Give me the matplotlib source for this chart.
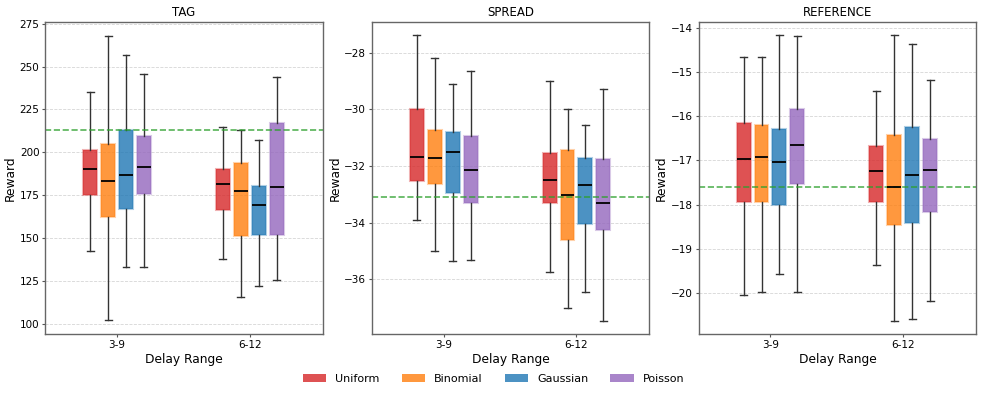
import numpy as np
import matplotlib
matplotlib.use("Agg")
import matplotlib.pyplot as plt
import matplotlib.patches as mpatches

# Delay range groups and distributions
delay_ranges = ["3-9", "6-12"]
distributions = ["Uniform", "Binomial", "Gaussian", "Poisson"]
colors = ["#d62728", "#ff7f0e", "#1f77b4", "#9467bd"]
tasks = ["TAG", "SPREAD", "REFERENCE"]

# Box stats per task: [delay range][distribution] = (whislo, q1, med, q3, whishi)
tag_stats = [
    [(142.4, 175.0, 190.1, 201.2, 235.3),
     (102.0, 162.2, 183.1, 205.0, 268.1),
     (133.1, 166.8, 187.0, 213.0, 256.9),
     (133.1, 175.5, 191.2, 209.3, 245.8)],
    [(137.9, 166.2, 181.4, 190.5, 214.6),
     (115.4, 151.3, 177.5, 194.0, 213.0),
     (121.8, 151.7, 169.2, 180.6, 207.2),
     (125.7, 151.7, 179.5, 216.9, 243.7)],
]
spread_stats = [
    [(-33.92, -32.52, -31.68, -30.00, -27.38),
     (-35.02, -32.62, -31.72, -30.74, -28.20),
     (-35.34, -32.95, -31.49, -30.80, -29.10),
     (-35.32, -33.32, -32.15, -30.95, -28.64)],
    [(-35.73, -33.31, -32.50, -31.54, -28.99),
     (-37.01, -34.61, -33.04, -31.45, -29.99),
     (-36.44, -34.05, -32.66, -31.73, -30.54),
     (-37.46, -34.26, -33.31, -31.74, -29.28)],
]
reference_stats = [
    [(-20.04, -17.93, -16.96, -16.15, -14.67),
     (-19.97, -17.95, -16.92, -16.20, -14.66),
     (-19.57, -18.01, -17.04, -16.28, -14.17),
     (-19.97, -17.53, -16.65, -15.83, -14.19)],
    [(-19.37, -17.93, -17.24, -16.68, -15.44),
     (-20.63, -18.47, -17.60, -16.42, -14.17),
     (-20.58, -18.42, -17.34, -16.24, -14.36),
     (-20.17, -18.16, -17.22, -16.52, -15.18)],
]
# Green dashed baseline per task
baselines = [213.2, -33.11, -17.6]

all_stats = [tag_stats, spread_stats, reference_stats]
ylims = [(94, 276.2), (-37.94, -26.9), (-20.93, -13.86)]
yticks = [np.arange(100, 276, 25), np.arange(-36, -27, 2), np.arange(-20, -13.5, 1)]

offsets = (np.arange(4) - 1.5) * 0.135
box_width = 0.105

fig, axes = plt.subplots(1, 3, figsize=(9.87, 3.94), dpi=100)
fig.subplots_adjust(left=0.046, right=0.989, top=0.945, bottom=0.152, wspace=0.178)

for ax, task, stats, base, ylim, ticks in zip(axes, tasks, all_stats, baselines, ylims, yticks):
    for g, group in enumerate(stats):
        for d, s in enumerate(group):
            whislo, q1, med, q3, whishi = s
            bstat = [dict(whislo=whislo, q1=q1, med=med, q3=q3, whishi=whishi, fliers=[])]
            ax.bxp(
                bstat,
                positions=[g + offsets[d]],
                widths=box_width,
                patch_artist=True,
                showfliers=False,
                boxprops=dict(facecolor=matplotlib.colors.to_rgba(colors[d], 0.8),
                              edgecolor=matplotlib.colors.to_rgba(colors[d], 0.35),
                              linewidth=1.5),
                medianprops=dict(color="black", linewidth=1.3),
                whiskerprops=dict(color="#333333", linewidth=1.0),
                capprops=dict(color="#333333", linewidth=1.0),
                manage_ticks=False,
            )
    ax.axhline(base, color="#2ca02c", linestyle="--", linewidth=1.2, alpha=0.8)
    ax.set_xticks([0, 1])
    ax.set_xticklabels(delay_ranges)
    ax.set_xlim(-0.54, 1.55)
    ax.set_ylim(*ylim)
    ax.set_yticks(ticks)
    ax.tick_params(labelsize=7.5, length=2.3, pad=2.0, color="#555555")
    ax.yaxis.grid(True, linestyle="--", color="#cccccc", linewidth=0.6, alpha=0.8)
    ax.set_axisbelow(True)
    ax.set_title(task, fontsize=8.5, pad=4)
    ax.set_xlabel("Delay Range", fontsize=8.8, labelpad=2)
    ax.set_ylabel("Reward", fontsize=8.8, labelpad=2)
    for sp in ax.spines.values():
        sp.set_color("#666666")
        sp.set_linewidth(1.0)

handles = [mpatches.Patch(facecolor=c, alpha=0.8, label=n) for c, n in zip(colors, distributions)]
fig.legend(handles=handles, loc="lower center", ncol=4, frameon=False, fontsize=8,
           bbox_to_anchor=(0.5, 0.0), columnspacing=2.0, handlelength=2.1)

fig.savefig("out.png", dpi=100)
